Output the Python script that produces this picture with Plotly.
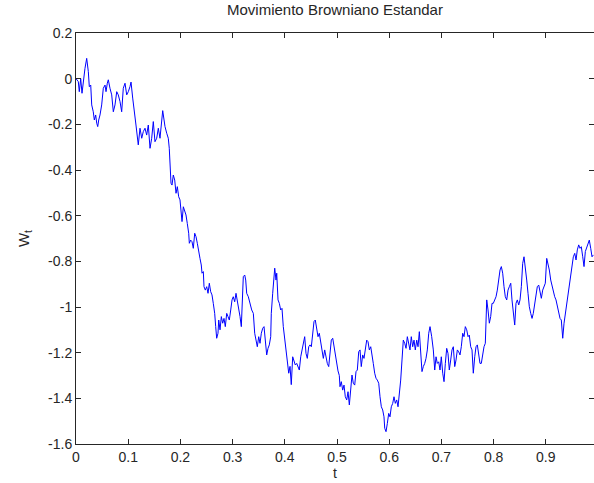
import plotly.graph_objects as go

# Time values
t = [
    0.0, 0.0044, 0.0063, 0.009, 0.0115, 0.014, 0.0172, 0.0205, 0.0236, 0.0255,
    0.0282, 0.0301, 0.0331, 0.0351, 0.0377, 0.0397, 0.0416, 0.0435, 0.046, 0.0492,
    0.0523, 0.0556, 0.0575, 0.06, 0.0619, 0.0651, 0.0684, 0.0715, 0.0747, 0.078,
    0.081, 0.0843, 0.0875, 0.0906, 0.0939, 0.0971, 0.1002, 0.1034, 0.1054, 0.1086,
    0.1111, 0.1149, 0.1193, 0.1226, 0.1259, 0.1289, 0.1322, 0.1354, 0.1385, 0.1418,
    0.145, 0.1481, 0.1513, 0.1546, 0.1577,
    0.1609, 0.1661, 0.1705, 0.1738, 0.1768, 0.1787, 0.1801, 0.182, 0.1839, 0.1864,
    0.1891, 0.1916, 0.1941, 0.1967, 0.1992, 0.2011, 0.2031, 0.2056, 0.2082, 0.2107,
    0.2132, 0.2159, 0.2171, 0.2197, 0.2222, 0.2247, 0.2274, 0.2299, 0.2324, 0.2351,
    0.2375, 0.24, 0.2414, 0.2439, 0.2452, 0.2477, 0.2504, 0.2529, 0.2554, 0.258,
    0.2605, 0.263, 0.2657, 0.2676, 0.2695, 0.272, 0.2734, 0.2759, 0.2784, 0.281,
    0.2835, 0.286, 0.2887, 0.2912, 0.2937, 0.2964, 0.2989, 0.3013, 0.304, 0.3065,
    0.309, 0.3117, 0.3142, 0.3167, 0.3186, 0.3205, 0.3232, 0.3251, 0.327, 0.3301,
    0.3366, 0.3397, 0.3423, 0.3448, 0.3473, 0.35, 0.3525, 0.355, 0.3577, 0.3602,
    0.3626, 0.3653, 0.3678, 0.3703, 0.373, 0.3741, 0.3768, 0.3793, 0.3807, 0.3831,
    0.3845, 0.387, 0.3895, 0.3921, 0.3946, 0.3971, 0.3998, 0.4023, 0.4048, 0.4075,
    0.41, 0.4124, 0.4151, 0.4176, 0.4201, 0.4228, 0.4253, 0.4278, 0.4305, 0.433,
    0.4354, 0.4381, 0.4406, 0.4431, 0.4458, 0.4483, 0.4508, 0.4534, 0.4559, 0.4584,
    0.4611, 0.4636, 0.4661, 0.4688, 0.4713, 0.4738, 0.4764, 0.4789, 0.4814, 0.4841,
    0.4866, 0.4891, 0.4918, 0.4943, 0.4967, 0.4994, 0.5019, 0.5044,
    0.5057, 0.5082, 0.5109, 0.5134, 0.5159, 0.5186, 0.5211, 0.5236, 0.5262, 0.5287,
    0.5312, 0.5339, 0.5364, 0.5389, 0.5416, 0.5441, 0.5465, 0.5492, 0.5517, 0.5542,
    0.5569, 0.5594, 0.5619, 0.5646, 0.567, 0.5695, 0.5722, 0.5747, 0.5772, 0.5799,
    0.5824, 0.5849, 0.5875, 0.59, 0.5914, 0.5939, 0.5964, 0.599, 0.6015, 0.604,
    0.6067, 0.6092, 0.6117, 0.6144, 0.6169, 0.6193, 0.622, 0.6245, 0.627, 0.6297,
    0.6322, 0.6347, 0.6374, 0.6398, 0.6423, 0.645, 0.6475, 0.65, 0.6527, 0.6552,
    0.6577, 0.6603, 0.6628, 0.6653, 0.668, 0.6705, 0.673, 0.6757,
    0.6782, 0.6814, 0.6845, 0.6872, 0.6897, 0.6921, 0.6948, 0.6973, 0.6998, 0.7025,
    0.705, 0.7075, 0.7101, 0.7126, 0.7151, 0.7178, 0.7203, 0.7228, 0.7255, 0.728,
    0.7305, 0.7331, 0.7356, 0.7381, 0.7408, 0.7433, 0.7458, 0.7485, 0.751, 0.7534,
    0.7561, 0.7586, 0.7611, 0.7638, 0.7663, 0.7688, 0.7715, 0.7739, 0.7764, 0.7791,
    0.7816, 0.7841, 0.7868, 0.7893, 0.7918, 0.7944, 0.7969, 0.7994, 0.8021, 0.8046,
    0.8071, 0.8098, 0.8123, 0.8148, 0.8174, 0.8199, 0.8224, 0.8251, 0.8276, 0.8301,
    0.8328, 0.8352, 0.8377, 0.8404, 0.8429, 0.8454, 0.8481,
    0.8506, 0.8531, 0.8557, 0.8582, 0.8607, 0.8634, 0.8659, 0.8684, 0.8711, 0.8736,
    0.876, 0.8787, 0.8812, 0.8837, 0.8864, 0.8889, 0.8914, 0.894, 0.8966, 0.899,
    0.9017, 0.9042, 0.9067, 0.9094, 0.9119, 0.9144, 0.917, 0.9195, 0.922, 0.9247,
    0.9272, 0.9297, 0.9324, 0.9349, 0.9374, 0.94, 0.9425, 0.945, 0.9477, 0.9502,
    0.9527, 0.9554, 0.9579, 0.9603, 0.963, 0.9655, 0.968, 0.9707, 0.9732, 0.9757,
    0.9784, 0.9808, 0.9833, 0.986, 0.9885, 0.991,
]

# Brownian path values W_t
w = [
    0.0, -0.013, -0.057, 0.0, -0.064, -0.013, 0.045, 0.089, 0.031, -0.035,
    -0.028, -0.115, -0.145, -0.181, -0.159, -0.195, -0.21, -0.181, -0.159, -0.115,
    -0.042, -0.028, -0.057, -0.02, -0.005, -0.042, -0.071, -0.145, -0.115, -0.057,
    -0.071, -0.1, -0.145, -0.042, -0.02, -0.071, -0.057, -0.035, -0.015, -0.085,
    -0.145, -0.203, -0.29, -0.217, -0.261, -0.232, -0.217, -0.247, -0.203, -0.305,
    -0.261, -0.188, -0.276, -0.261, -0.217,
    -0.261, -0.14, -0.21, -0.239, -0.261, -0.305, -0.385, -0.458, -0.466, -0.422,
    -0.444, -0.502, -0.473, -0.517, -0.531, -0.568, -0.626, -0.561, -0.583, -0.597,
    -0.634, -0.677, -0.721, -0.707, -0.714, -0.743, -0.677, -0.692, -0.721, -0.765,
    -0.787, -0.816, -0.852, -0.845, -0.911, -0.926, -0.911, -0.94, -0.896, -0.933,
    -0.947, -0.984, -1.028, -1.086, -1.137, -1.115, -1.057, -1.1, -1.042, -1.071,
    -1.05, -1.086, -1.028, -1.042, -1.057, -1.013, -0.969, -0.955, -0.977, -0.94,
    -0.969, -0.999, -1.042, -1.086, -0.969, -0.867, -0.86, -0.882, -0.94, -0.955,
    -1.013, -1.028, -1.115, -1.145, -1.174, -1.13, -1.159, -1.115, -1.093, -1.086,
    -1.159, -1.21, -1.181, -1.166, -1.13, -1.028, -0.94, -0.867, -0.83, -0.882,
    -0.852, -0.969, -0.984, -1.013, -1.006, -1.086, -1.145, -1.203, -1.247, -1.29,
    -1.26, -1.34, -1.218, -1.24, -1.254, -1.247, -1.261, -1.276, -1.218, -1.188,
    -1.145, -1.13, -1.203, -1.225, -1.174, -1.166, -1.174, -1.1, -1.064, -1.057,
    -1.1, -1.13, -1.115, -1.159, -1.203, -1.225, -1.188, -1.218, -1.247, -1.261,
    -1.203, -1.145, -1.137, -1.174, -1.203, -1.247, -1.28, -1.3,
    -1.349, -1.327, -1.364, -1.342, -1.393, -1.407, -1.371, -1.429, -1.349, -1.298,
    -1.334, -1.342, -1.283, -1.276, -1.196, -1.188, -1.261, -1.21, -1.225, -1.174,
    -1.145, -1.152, -1.188, -1.174, -1.203, -1.247, -1.29, -1.312, -1.32, -1.334,
    -1.393, -1.437, -1.451, -1.481, -1.531, -1.546, -1.51, -1.466, -1.481, -1.437,
    -1.422, -1.393, -1.422, -1.407, -1.437, -1.393, -1.32, -1.232, -1.145, -1.159,
    -1.181, -1.13, -1.159, -1.188, -1.13, -1.174, -1.145, -1.188, -1.145, -1.174,
    -1.108, -1.218, -1.283, -1.261, -1.247, -1.225, -1.188, -1.115,
    -1.086, -1.13, -1.188, -1.276, -1.218, -1.247, -1.24, -1.276, -1.218, -1.29,
    -1.327, -1.247, -1.181, -1.203, -1.276, -1.232, -1.188, -1.174, -1.261, -1.232,
    -1.188, -1.196, -1.21, -1.174, -1.115, -1.13, -1.086, -1.1, -1.13, -1.123,
    -1.174, -1.188, -1.29, -1.218, -1.174, -1.166, -1.218, -1.247, -1.247, -1.203,
    -1.174, -1.159, -0.969, -1.013, -1.071, -1.042, -0.984, -0.984, -0.969, -0.955,
    -0.926, -0.867, -0.838, -0.823, -0.852, -0.911, -0.955, -0.969, -0.926, -0.911,
    -0.896, -0.969, -1.028, -1.079, -0.984, -0.969, -0.991,
    -0.969, -0.911, -0.809, -0.78, -0.823, -0.882, -0.94, -0.999, -1.028, -1.05,
    -1.028, -0.984, -0.955, -0.911, -0.904, -0.94, -0.962, -0.926, -0.911, -0.896,
    -0.787, -0.809, -0.838, -0.882, -0.911, -0.926, -0.955, -0.969, -0.999, -1.028,
    -1.05, -1.057, -1.137, -1.071, -1.028, -0.984, -0.955, -0.889, -0.852, -0.809,
    -0.78, -0.765, -0.794, -0.75, -0.728, -0.743, -0.736, -0.78, -0.823, -0.757,
    -0.736, -0.728, -0.707, -0.743, -0.78, -0.772,
]

x_ticks = [0, 0.1, 0.2, 0.3, 0.4, 0.5, 0.6, 0.7, 0.8, 0.9]
x_tick_labels = ["0", "0.1", "0.2", "0.3", "0.4", "0.5", "0.6", "0.7", "0.8", "0.9"]
y_ticks = [0.2, 0, -0.2, -0.4, -0.6, -0.8, -1.0, -1.2, -1.4, -1.6]
y_tick_labels = ["0.2", "0", "-0.2", "-0.4", "-0.6", "-0.8", "-1", "-1.2", "-1.4", "-1.6"]

title_text = "Movimiento Browniano Estandar"
x_label = "t"
y_label = "W<sub>t</sub>"

font_family = "Liberation Sans, Arial, sans-serif"
ink = "#262626"

fig = go.Figure()
fig.add_trace(go.Scatter(
    x=t, y=w, mode="lines",
    line=dict(color="#0000ff", width=1),
    showlegend=False,
))

axis_common = dict(
    showgrid=False, zeroline=False,
    showline=True, linecolor=ink, linewidth=1,
    mirror="ticks", ticks="inside", ticklen=5, tickwidth=1, tickcolor=ink,
    tickfont=dict(family=font_family, size=14, color=ink),
)

fig.update_layout(
    width=594, height=483,
    margin=dict(l=76, r=0, t=33, b=39),
    paper_bgcolor="white", plot_bgcolor="white",
    title=dict(text=title_text, x=0.5, xref="paper", xanchor="center",
               y=0.99, yref="container", yanchor="top",
               font=dict(family=font_family, size=15, color=ink)),
)
fig.update_xaxes(
    range=[0, 0.9923], tickmode="array", tickvals=x_ticks, ticktext=x_tick_labels,
    title=dict(text=x_label, standoff=2, font=dict(family=font_family, size=14, color=ink)),
    **axis_common,
)
fig.update_yaxes(
    range=[-1.6, 0.2], tickmode="array", tickvals=y_ticks, ticktext=y_tick_labels,
    title=dict(text=y_label, standoff=14, font=dict(family=font_family, size=15, color=ink)),
    **axis_common,
)

# remove the default page margin so the figure fills the window exactly
fig.write_html(
    "out.html",
    config={"displayModeBar": False},
    post_script="document.body.style.margin='0';document.body.style.overflow='hidden';",
)
